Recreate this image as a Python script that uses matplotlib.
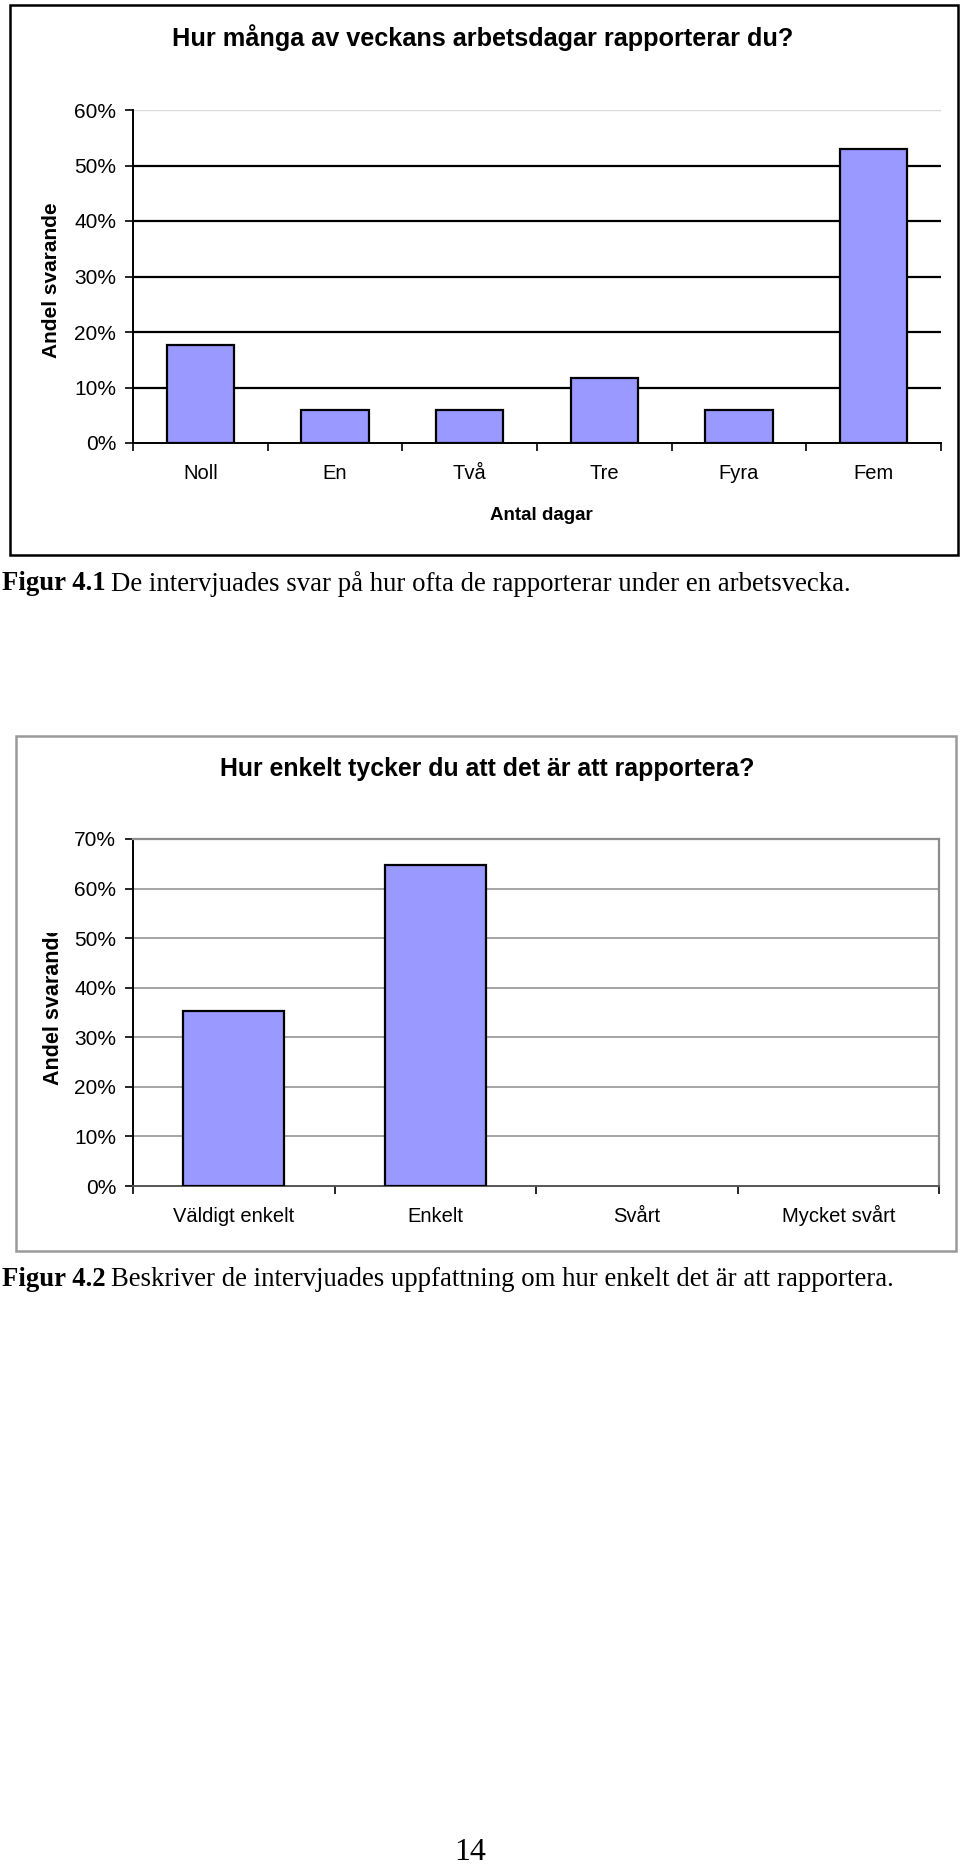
import numpy as np
import matplotlib
matplotlib.use('Agg')
import matplotlib.pyplot as plt
from matplotlib.patches import Rectangle
from matplotlib.ticker import PercentFormatter, FixedLocator

# data
dagar = ['Noll', 'En', 'Två', 'Tre', 'Fyra', 'Fem']
andel_dagar = [0.176, 0.059, 0.059, 0.118, 0.059, 0.529]

enkelhet = ['Väldigt enkelt', 'Enkelt', 'Svårt', 'Mycket svårt']
andel_enkelhet = [0.353, 0.647, 0.0, 0.0]

W, H = 960, 1866
BAR = '#9999ff'
SANS = 'Liberation Sans'
SERIF = 'Liberation Serif'

fig = plt.figure(figsize=(W / 100, H / 100), dpi=100)


def box(x0, y0, x1, y1):
    # pixel box (top-left origin) -> figure fractions
    return [x0 / W, 1 - y1 / H, (x1 - x0) / W, (y1 - y0) / H]


def frame(x0, y0, x1, y1, color, lw):
    fig.patches.append(Rectangle((x0 / W, 1 - y1 / H), (x1 - x0) / W, (y1 - y0) / H,
                                 transform=fig.transFigure, fill=False,
                                 edgecolor=color, linewidth=lw))


def caption(y, bold, rest):
    r = fig.canvas.get_renderer()
    t = fig.text(2 / W, 1 - y / H, bold, family=SERIF, weight='bold',
                 fontsize=19.3, va='center', ha='left')
    bb = t.get_window_extent(renderer=r)
    fig.text(bb.x1 / W + 5 / W, 1 - y / H, rest, family=SERIF,
             fontsize=19.3, va='center', ha='left')


def bar_axes(ax, cats, vals, ymax, grid_color, grid_lw):
    x = np.arange(len(cats))
    # staplar med värdet 0 ritas utan kant
    edges = ['black' if v > 0 else 'none' for v in vals]
    ax.bar(x, vals, width=0.5, color=BAR, edgecolor=edges, linewidth=1.6, zorder=3)
    ax.set_xlim(-0.5, len(cats) - 0.5)
    ax.set_ylim(0, ymax)
    ax.yaxis.set_major_locator(FixedLocator(np.arange(0, ymax + 0.001, 0.1)))
    ax.yaxis.set_major_formatter(PercentFormatter(1.0, decimals=0))
    ax.set_xticks(x)
    ax.set_xticklabels(cats, family=SANS, fontsize=14.5, va='baseline')
    ax.set_xticks(np.arange(-0.5, len(cats)), minor=True)
    ax.tick_params(axis='x', which='major', length=0, pad=26)
    ax.tick_params(axis='x', which='minor', length=6, width=1.2, direction='out')
    ax.tick_params(axis='y', length=6, width=1.2, direction='out', pad=6, labelsize=15)
    for lab in ax.get_yticklabels():
        lab.set_family(SANS)
    for y in np.arange(0.1, ymax - 0.05, 0.1):
        ax.axhline(y, color=grid_color, linewidth=grid_lw, zorder=1)
    ax.spines['left'].set_linewidth(1.4)
    ax.spines['bottom'].set_linewidth(1.4)


# ---- Figur 4.1 ----
frame(10, 5, 958, 555, 'black', 1.8)
ax1 = fig.add_axes(box(133, 110, 941, 443))
bar_axes(ax1, dagar, andel_dagar, 0.6, 'black', 1.6)
ax1.axhline(0.6, color='#d8d8d8', linewidth=1.0, zorder=1)
for s in ['top', 'right']:
    ax1.spines[s].set_visible(False)
fig.text(483 / W, 1 - 38 / H, 'Hur många av veckans arbetsdagar rapporterar du?',
         family=SANS, weight='bold', fontsize=18.2, ha='center', va='center')
fig.text(52 / W, 1 - 280 / H, 'Andel svarande', family=SANS, weight='bold',
         fontsize=15, rotation=90, ha='center', va='center')
fig.text(541 / W, 1 - 516 / H, 'Antal dagar', family=SANS, weight='bold',
         fontsize=13.5, ha='center', va='center')
caption(584, 'Figur 4.1', 'De intervjuades svar på hur ofta de rapporterar under en arbetsvecka.')

# ---- Figur 4.2 ----
frame(16, 736, 956, 1251, '#9a9a9a', 1.8)
ax2 = fig.add_axes(box(133, 839, 939, 1186))
bar_axes(ax2, enkelhet, andel_enkelhet, 0.7, '#8c8c8c', 1.1)
for s in ['top', 'right']:
    ax2.spines[s].set_color('#8c8c8c')
    ax2.spines[s].set_linewidth(1.6)
ax2.spines['bottom'].set_color('#555555')
fig.text(487 / W, 1 - 769 / H, 'Hur enkelt tycker du att det är att rapportera?',
         family=SANS, weight='bold', fontsize=17.9, ha='center', va='center')
yl = fig.text(54 / W, 1 - 1085 / H, 'Andel svarande', family=SANS,
              weight='bold', fontsize=15.5, rotation=90, ha='center', va='bottom')
clip = Rectangle((0, 0), 1, 1 - 933 / H, transform=fig.transFigure, visible=False)
fig.patches.append(clip)
yl.set_clip_path(clip)
caption(1280, 'Figur 4.2', 'Beskriver de intervjuades uppfattning om hur enkelt det är att rapportera.')

fig.text(470 / W, 1 - 1852 / H, '14', family=SERIF, fontsize=23, ha='center', va='center')

fig.savefig('out.png', dpi=100)
